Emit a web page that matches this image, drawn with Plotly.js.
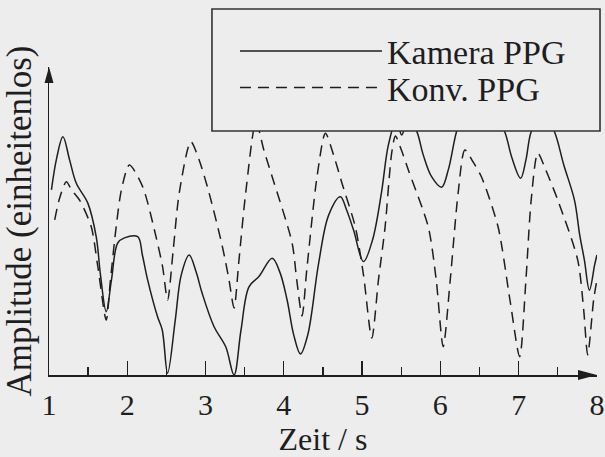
<!DOCTYPE html>
<html><head><meta charset="utf-8">
<script src="https://cdn.plot.ly/plotly-3.0.1.min.js"></script>
<style>html,body{margin:0;padding:0;background:#ededed;}#chart{width:605px;height:457px;}</style>
</head><body><div id="chart"></div>
<script>
const seriesNames = ['Kamera PPG', 'Konv. PPG'];
const xTitle = 'Zeit / s';
const yTitle = 'Amplitude (einheitenlos)';
const tickVals = [1, 2, 3, 4, 5, 6, 7, 8];
const tickText = ['1', '2', '3', '4', '5', '6', '7', '8'];

const kameraT = [1.031,1.098,1.178,1.263,1.349,1.496,1.603,1.658,1.731,1.798,1.878,1.964,2.133,2.193,2.26,2.387,2.447,2.515,2.613,2.689,2.791,2.88,2.956,3.109,3.258,3.364,3.453,3.555,3.682,3.851,3.949,4.042,4.127,4.213,4.305,4.445,4.573,4.722,4.802,4.891,5.018,5.133,5.247,5.336,5.438,5.506,5.591,5.697,5.782,5.888,6.015,6.1,6.206,6.304,6.482,6.673,6.822,6.915,7.025,7.093,7.16,7.309,7.458,7.577,7.713,7.78,7.84,7.904,7.971,8.0];
const kameraV = [0.617,0.723,0.794,0.717,0.639,0.573,0.461,0.333,0.211,0.317,0.44,0.457,0.461,0.4,0.317,0.194,0.15,0.006,0.183,0.333,0.4,0.343,0.273,0.161,0.094,0.0,0.15,0.294,0.328,0.389,0.343,0.25,0.133,0.07,0.133,0.373,0.533,0.594,0.55,0.483,0.378,0.45,0.607,0.767,0.85,0.8,0.857,0.813,0.733,0.661,0.626,0.683,0.811,0.883,0.917,0.883,0.811,0.723,0.656,0.717,0.811,0.883,0.811,0.7,0.583,0.467,0.383,0.283,0.367,0.4];

const konvT = [1.073,1.136,1.221,1.289,1.391,1.54,1.624,1.731,1.785,1.858,1.925,2.027,2.196,2.367,2.451,2.515,2.587,2.664,2.812,2.918,3.045,3.215,3.3,3.364,3.427,3.513,3.644,3.745,3.851,4.106,4.165,4.233,4.293,4.424,4.531,4.636,4.742,4.913,5.018,5.124,5.209,5.294,5.378,5.426,5.502,5.591,5.845,5.947,6.036,6.126,6.227,6.313,6.418,6.524,6.737,6.889,7.013,7.093,7.16,7.245,7.347,7.5,7.755,7.831,7.882,7.958,8.0];
const konvV = [0.517,0.59,0.644,0.617,0.583,0.494,0.361,0.183,0.317,0.494,0.617,0.7,0.628,0.461,0.361,0.25,0.417,0.607,0.778,0.717,0.607,0.428,0.317,0.223,0.383,0.607,0.843,0.75,0.661,0.44,0.317,0.197,0.35,0.661,0.806,0.733,0.64,0.494,0.333,0.123,0.317,0.494,0.74,0.797,0.75,0.683,0.494,0.317,0.094,0.317,0.607,0.75,0.71,0.661,0.494,0.25,0.061,0.317,0.583,0.74,0.683,0.583,0.383,0.217,0.067,0.25,0.317];

const ink = '#1e1e1e';
const bg = '#ededed';
const serif = 'Liberation Serif';
const dashPat = '11px,7px';

const traces = [
  {x: kameraT, y: kameraV, name: seriesNames[0], type: 'scatter', mode: 'lines',
   line: {color: ink, width: 1.5, shape: 'spline', smoothing: 1}},
  {x: konvT, y: konvV, name: seriesNames[1], type: 'scatter', mode: 'lines',
   line: {color: ink, width: 1.5, dash: dashPat, shape: 'spline', smoothing: 0.75}}
];

const layout = {
  width: 605, height: 457,
  margin: {l: 49, r: 8, t: 67, b: 82, autoexpand: false},
  paper_bgcolor: bg, plot_bgcolor: bg,
  showlegend: false,
  font: {family: serif, color: ink, size: 30},
  xaxis: {
    range: [1, 8.001], showgrid: false, zeroline: false,
    showline: true, linecolor: ink, linewidth: 1.5,
    tickmode: 'array', tickvals: tickVals, ticktext: tickText,
    ticks: 'inside', ticklen: 14, tickwidth: 1.3, tickcolor: ink,
    ticklabelstandoff: 2, ticklabeloverflow: 'allow',
    minor: {tickmode: 'linear', tick0: 1, dtick: 0.5, ticks: 'inside', ticklen: 8, tickwidth: 1.3, tickcolor: ink, showgrid: false},
    tickfont: {family: serif, size: 30, color: ink},
    title: {text: xTitle, font: {family: serif, size: 32, color: ink}, standoff: 16},
    automargin: false, fixedrange: true
  },
  yaxis: {
    range: [0, 1.0267], showgrid: false, zeroline: false,
    showline: true, linecolor: ink, linewidth: 1.5,
    showticklabels: false, ticks: '',
    title: {text: yTitle, font: {family: serif, size: 35, color: ink}, standoff: 8},
    automargin: false, fixedrange: true
  },
  shapes: [
    {type: 'path', xref: 'paper', yref: 'paper', xsizemode: 'pixel', ysizemode: 'pixel',
     xanchor: 1, yanchor: 0, path: 'M0,0 L-19,5 L-19,-5 Z', fillcolor: ink, line: {width: 0}, layer: 'above'},
    {type: 'path', xref: 'paper', yref: 'paper', xsizemode: 'pixel', ysizemode: 'pixel',
     xanchor: 0, yanchor: 1, path: 'M0,0 L-4.5,-16 L4.5,-16 Z', fillcolor: ink, line: {width: 0}, layer: 'above'},
    {type: 'rect', xref: 'paper', yref: 'paper', x0: 0.2974, x1: 1.0055, y0: 0.7922, y1: 1.1883,
     fillcolor: bg, line: {color: '#333', width: 1.6}, layer: 'above'},
    {type: 'line', xref: 'paper', yref: 'paper', x0: 0.3485, x1: 0.6077, y0: 1.052, y1: 1.052,
     line: {color: ink, width: 1.5}, layer: 'above'},
    {type: 'line', xref: 'paper', yref: 'paper', x0: 0.3485, x1: 0.6077, y0: 0.9338, y1: 0.9338,
     line: {color: ink, width: 1.5, dash: dashPat}, layer: 'above'}
  ],
  annotations: [
    {xref: 'paper', yref: 'paper', x: 0.6131, y: 1.047, xanchor: 'left', yanchor: 'middle',
     text: seriesNames[0], showarrow: false, font: {family: serif, size: 34, color: ink}},
    {xref: 'paper', yref: 'paper', x: 0.6131, y: 0.928, xanchor: 'left', yanchor: 'middle',
     text: seriesNames[1], showarrow: false, font: {family: serif, size: 34, color: ink}}
  ]
};

Plotly.newPlot('chart', traces, layout, {displayModeBar: false, staticPlot: true});
</script>
</body></html>
